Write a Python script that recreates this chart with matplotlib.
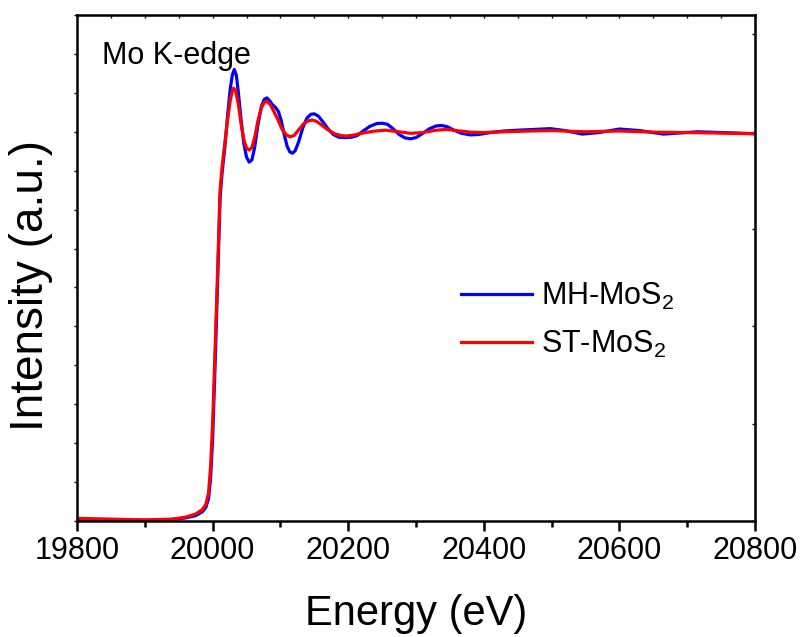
import matplotlib
matplotlib.use("Agg")
import matplotlib.pyplot as plt
from matplotlib.ticker import MultipleLocator

plt.rcParams['font.family'] = ['Liberation Sans', 'DejaVu Sans']
plt.rcParams['mathtext.fontset'] = 'custom'
plt.rcParams['mathtext.rm'] = 'Liberation Sans'

# MH-MoS2 (blue)
e_mh = [19800, 19850, 19900, 19940, 19960, 19975, 19985, 19990, 19994, 19997,
        20000, 20004, 20008, 20011, 20014, 20018, 20022, 20026, 20029, 20032,
        20035, 20038, 20042, 20046, 20050, 20054, 20058, 20062, 20067, 20072,
        20076, 20080, 20084, 20088, 20093, 20097, 20101, 20106, 20110, 20114,
        20118, 20122, 20127, 20133, 20139, 20145, 20150, 20156, 20163, 20170,
        20178, 20186, 20195, 20205, 20213, 20222, 20232, 20242, 20250, 20258,
        20266, 20275, 20284, 20292, 20300, 20310, 20320, 20330, 20338, 20346,
        20356, 20367, 20380, 20392, 20410, 20430, 20450, 20475, 20498, 20520,
        20545, 20570, 20600, 20630, 20665, 20690, 20715, 20750, 20800]
i_mh = [0.005, 0.003, 0.002, 0.004, 0.008, 0.014, 0.024, 0.035, 0.058, 0.11,
        0.21, 0.42, 0.65, 0.83, 0.895, 0.96, 1.04, 1.11, 1.145, 1.160,
        1.145, 1.10, 1.03, 0.97, 0.935, 0.922, 0.928, 0.96, 1.02, 1.065,
        1.083, 1.087, 1.080, 1.070, 1.062, 1.052, 1.03, 0.99, 0.962, 0.948,
        0.945, 0.952, 0.975, 1.01, 1.035, 1.045, 1.046, 1.04, 1.025, 1.008,
        0.993, 0.986, 0.985, 0.986, 0.99, 1.002, 1.014, 1.021, 1.022, 1.019,
        1.008, 0.993, 0.984, 0.982, 0.985, 0.996, 1.008, 1.015, 1.016, 1.013,
        1.004, 0.996, 0.992, 0.993, 0.998, 1.002, 1.004, 1.006, 1.008, 1.003,
        0.994, 0.998, 1.007, 1.003, 0.994, 0.997, 1.000, 0.998, 0.995]

# ST-MoS2 (red)
e_st = [19800, 19850, 19900, 19940, 19960, 19975, 19985, 19990, 19994, 19997,
        20000, 20004, 20008, 20011, 20014, 20018, 20022, 20026, 20029, 20031,
        20034, 20038, 20042, 20046, 20050, 20054, 20058, 20062, 20067, 20072,
        20076, 20080, 20085, 20090, 20096, 20102, 20108, 20114, 20120, 20127,
        20134, 20141, 20147, 20153, 20161, 20170, 20180, 20190, 20198, 20210,
        20225, 20240, 20255, 20275, 20292, 20310, 20330, 20345, 20360, 20380,
        20400, 20430, 20470, 20500, 20550, 20600, 20650, 20700, 20800]
i_st = [0.007, 0.005, 0.003, 0.005, 0.010, 0.018, 0.030, 0.043, 0.072, 0.14,
        0.25, 0.46, 0.68, 0.85, 0.91, 0.97, 1.03, 1.08, 1.105, 1.112,
        1.105, 1.07, 1.02, 0.98, 0.958, 0.953, 0.96, 0.985, 1.03, 1.062,
        1.075, 1.078, 1.07, 1.053, 1.032, 1.008, 0.993, 0.987, 0.99, 1.005,
        1.02, 1.028, 1.030, 1.027, 1.017, 1.005, 0.995, 0.990, 0.989, 0.992,
        0.998, 1.002, 1.004, 1.0, 0.996, 0.998, 1.004, 1.006, 1.003, 0.999,
        0.998, 1.0, 1.002, 1.003, 1.0, 1.002, 0.999, 0.998, 0.995]

labels = ['MH-MoS$_2$', 'ST-MoS$_2$']

fig = plt.figure(figsize=(8.02, 6.37), dpi=100)
ax = fig.add_axes([0.096, 0.182, 0.8455, 0.7945])

ax.plot(e_mh, i_mh, color='#0000FF', lw=2.3, label=labels[0])
ax.plot(e_st, i_st, color='#FF0000', lw=2.3, label=labels[1])

ax.set_xlim(19800, 20800)
ax.set_ylim(0, 1.3)

# 座標軸樣式
for s in ax.spines.values():
    s.set_linewidth(1.8)
ax.xaxis.set_major_locator(MultipleLocator(200))
ax.xaxis.set_minor_locator(MultipleLocator(100))
ax.tick_params(axis='x', which='major', direction='out', length=7, width=1.8,
               labelsize=22, pad=4)
ax.tick_params(axis='x', which='minor', direction='out', length=4, width=1.8)
ax.yaxis.set_major_locator(MultipleLocator(0.1))
ax.tick_params(axis='y', which='major', direction='out', length=2, width=1,
               labelleft=False)

top = ax.secondary_xaxis('top')
top.xaxis.set_major_locator(MultipleLocator(50))
top.tick_params(direction='in', length=2, width=1, labeltop=False)
right = ax.secondary_yaxis('right')
right.yaxis.set_major_locator(MultipleLocator(0.25))
right.tick_params(direction='in', length=2, width=1, labelright=False)

ax.set_xlabel('Energy (eV)', fontsize=30, labelpad=20)
ax.set_ylabel('Intensity (a.u.)', fontsize=33)
ax.yaxis.set_label_coords(-0.036, 0.465)

ax.text(0.037, 0.903, 'Mo K-edge', transform=ax.transAxes, fontsize=22,
        va='baseline', ha='left')

ax.legend(loc='upper left', bbox_to_anchor=(0.567, 0.475), frameon=False,
          fontsize=22, borderaxespad=0, borderpad=0, handlelength=2.3,
          handletextpad=0.3, labelspacing=0.55)

fig.savefig('out.png', dpi=100)
